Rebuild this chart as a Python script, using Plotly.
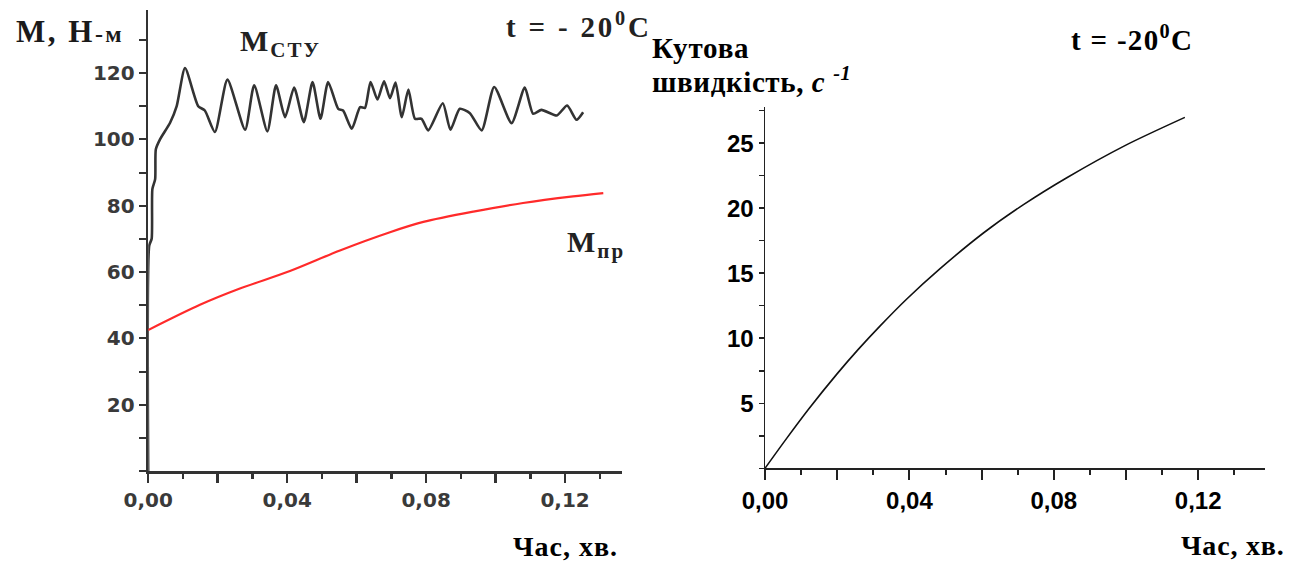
import plotly.graph_objects as go

W, H = 1291, 563

# ---- Left chart data: torque vs time ----
t_sty = [0.0, 0.0003, 0.001, 0.0012, 0.002, 0.0022, 0.0034, 0.0063, 0.0082, 0.0106,
         0.0144, 0.0163, 0.0192, 0.0228, 0.0279, 0.0305, 0.0343, 0.0368, 0.0394, 0.042,
         0.0448, 0.0473, 0.0496, 0.0518, 0.0547, 0.0561, 0.0586, 0.061, 0.0624, 0.064,
         0.066, 0.0679, 0.0696, 0.0712, 0.073, 0.0749, 0.0768, 0.0787, 0.0806, 0.0848,
         0.087, 0.0897, 0.0926, 0.096, 0.0996, 0.1046, 0.1084, 0.1108, 0.1132, 0.1176,
         0.1206, 0.1233, 0.1252]
m_sty = [0.0, 68.0, 70.0, 85.0, 88.0, 97.0, 100.0, 105.0, 110.0, 121.5,
         110.0, 108.7, 102.2, 118.0, 102.9, 116.3, 102.4, 116.3, 106.7, 115.6,
         105.2, 117.3, 106.2, 117.3, 109.2, 108.7, 103.2, 109.7, 109.5, 117.3,
         112.0, 117.5, 112.4, 117.1, 106.7, 115.0, 106.2, 106.2, 102.7, 110.9,
         102.9, 109.2, 107.9, 102.7, 115.8, 104.9, 115.6, 107.7, 108.9, 107.2,
         110.2, 105.9, 108.2]

t_pr = [0.0, 0.0149, 0.0264, 0.0408, 0.0552, 0.0696, 0.0792, 0.0936, 0.1079, 0.1223, 0.131]
m_pr = [42.5, 50.1, 55.0, 60.3, 66.5, 72.0, 75.1, 78.2, 80.8, 82.8, 83.8]

# ---- Right chart data: angular speed vs time ----
t_w = [0.0, 0.006, 0.012, 0.0199, 0.0259, 0.0319, 0.0392, 0.0485, 0.0605, 0.0716,
       0.0836, 0.0997, 0.1163]
w_val = [0.0, 2.3, 4.52, 7.24, 9.16, 10.95, 13.0, 15.35, 18.09, 20.27,
         22.34, 24.81, 26.98]

# ---- Tick labels ----
x_tickvals = [0.0, 0.02, 0.04, 0.06, 0.08, 0.10, 0.12]
x_ticktext = ["0,00", "", "0,04", "", "0,08", "", "0,12"]
yl_tickvals = [20, 40, 60, 80, 100, 120]
yl_ticktext = ["20", "40", "60", "80", "100", "120"]
yr_tickvals = [5, 10, 15, 20, 25]
yr_ticktext = ["5", "10", "15", "20", "25"]


def px(x):
    return x / W


def py(y):
    return 1 - y / H


fig = go.Figure()
fig.add_trace(go.Scatter(x=t_sty, y=m_sty, mode="lines",
                         line=dict(color="#333333", width=2.6, shape="spline", smoothing=0.6),
                         xaxis="x", yaxis="y", showlegend=False))
fig.add_trace(go.Scatter(x=t_pr, y=m_pr, mode="lines",
                         line=dict(color="#ff2a2a", width=2.2, shape="spline", smoothing=0.8),
                         xaxis="x", yaxis="y", showlegend=False))
fig.add_trace(go.Scatter(x=t_w, y=w_val, mode="lines",
                         line=dict(color="#111111", width=1.6, shape="spline", smoothing=0.8),
                         xaxis="x2", yaxis="y2", showlegend=False))

left_tick_font = dict(family="DejaVu Sans", size=20, color="#3a3a3a", weight="bold")
right_tick_font = dict(family="Liberation Sans, Arial", size=24, color="#000000", weight="bold")

fig.update_layout(
    width=W, height=H, autosize=False,
    margin=dict(l=0, r=0, t=0, b=0, autoexpand=False),
    paper_bgcolor="white", plot_bgcolor="white",
    separators=", ",
    hovermode=False,
    xaxis=dict(domain=[px(148.2), px(621.7)], range=[0, 0.1363], anchor="y", automargin=False,
               showgrid=False, zeroline=False, showline=True, linecolor="#333333", linewidth=2.5,
               ticks="outside", ticklen=9, tickwidth=2.5, tickcolor="#333333",
               tickvals=x_tickvals, ticktext=x_ticktext, tickfont=left_tick_font,
               minor=dict(dtick=0.01, tick0=0, ticks="outside", ticklen=5, tickwidth=2.5,
                          tickcolor="#333333")),
    yaxis=dict(domain=[py(471), py(10)], range=[0, 139], anchor="x", automargin=False,
               showgrid=False, zeroline=False, showline=True, linecolor="#333333", linewidth=2.5,
               ticks="outside", ticklen=7, tickwidth=2, tickcolor="#333333",
               tickvals=yl_tickvals, ticktext=yl_ticktext, tickfont=left_tick_font,
               minor=dict(dtick=10, tick0=0, ticks="outside", ticklen=7, tickwidth=2,
                          tickcolor="#333333")),
    xaxis2=dict(domain=[px(765), px(1265)], range=[0, 0.1385], anchor="y2", automargin=False,
                showgrid=False, zeroline=False, showline=True, linecolor="#222222", linewidth=2,
                ticks="outside", ticklen=10, tickwidth=2, tickcolor="#222222",
                tickvals=x_tickvals, ticktext=x_ticktext, tickfont=right_tick_font,
                minor=dict(dtick=0.01, tick0=0, ticks="outside", ticklen=5, tickwidth=2,
                           tickcolor="#222222")),
    yaxis2=dict(domain=[py(468.3), py(106.7)], range=[0, 27.8], anchor="x2", automargin=False,
                showgrid=False, zeroline=False, showline=True, linecolor="#222222", linewidth=1.5,
                ticks="outside", ticklen=5, tickwidth=1.5, tickcolor="#222222",
                tickvals=yr_tickvals, ticktext=yr_ticktext, tickfont=right_tick_font,
                minor=dict(dtick=2.5, tick0=0, ticks="outside", ticklen=5, tickwidth=1.5,
                           tickcolor="#222222")),
)

serif = "Liberation Serif, Times New Roman, serif"


def ann(text, x, y, xanchor="left", size=26, color="#000000", spacing=0):
    if spacing:
        text = "<span style='letter-spacing:%gpx'>%s</span>" % (spacing, text)
    fig.add_annotation(text=text, x=px(x), y=py(y), xref="paper", yref="paper",
                       xanchor=xanchor, yanchor="middle", showarrow=False, borderpad=0,
                       font=dict(family=serif, size=size, color=color))


ann("<b>M, H<span style='font-size:24px'>-м</span></b>", 15, 31, size=31, color="#1a1a1a", spacing=2.5)
ann("<b>M<sub>СТУ</sub></b>", 239, 43, size=30, color="#222222", spacing=2)
ann("<b>t = - 20<sup>0</sup>C</b>", 505, 25, size=29, color="#222222", spacing=2.8)
ann("<b>M<sub>пр</sub></b>", 566, 244, size=30, color="#222222", spacing=2)
ann("<b>Час, хв.</b>", 619, 546, xanchor="right", size=28, spacing=1)

ann("<b>Кутова</b>", 651, 48, size=29, spacing=0.8)
ann("<b>швидкість, <i>c</i> <sup><i>-1</i></sup></b>", 651, 80, size=29, spacing=0.6)
ann("<b>t = -20<sup>0</sup>C</b>", 1070, 38, size=29, spacing=1.3)
ann("<b>Час, хв.</b>", 1286, 545, xanchor="right", size=28, spacing=0.8)

fig.write_html("out.html", config={"displayModeBar": False, "staticPlot": True},
               post_script="document.body.style.margin='0';document.body.style.overflow='hidden';")
